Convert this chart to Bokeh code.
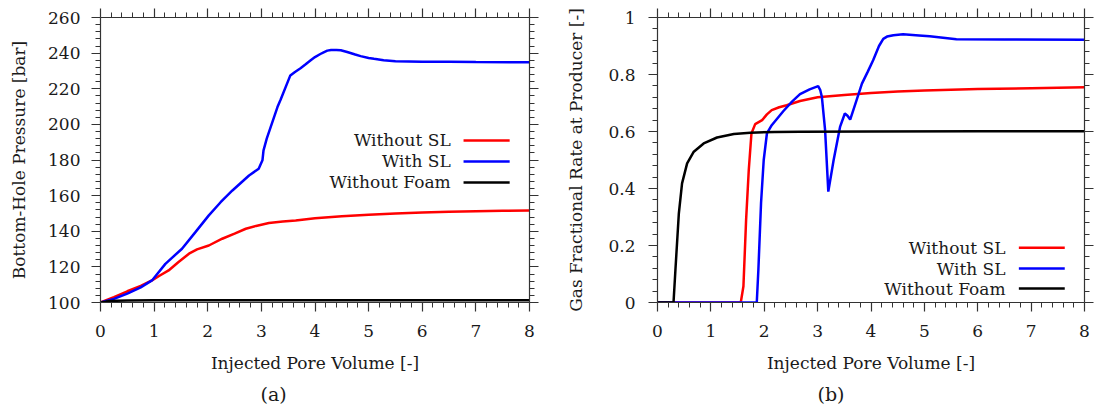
from bokeh.plotting import figure
from bokeh.layouts import row
from bokeh.models import Range1d, LinearAxis, FixedTicker, Label, Title
from bokeh.embed import file_html
from bokeh.resources import INLINE

# ---------------- data ----------------
# (a) Bottom-hole pressure [bar] vs injected pore volume
bhp_nosl_x = [0, 0.25, 0.5, 0.75, 0.96, 1.1, 1.27, 1.45, 1.65, 1.8, 2.02, 2.27, 2.5, 2.71, 2.9,
              3.14, 3.4, 3.64, 4.0, 4.5, 5.0, 5.5, 6.0, 6.5, 7.0, 7.5, 8.0]
bhp_nosl_y = [100, 103.0, 106.3, 109.3, 112.4, 115.0, 118.0, 122.6, 127.4, 129.8, 132.0, 135.8, 138.7,
              141.4, 143.0, 144.6, 145.5, 146.1, 147.3, 148.4, 149.3, 150.0, 150.5, 150.9, 151.2,
              151.5, 151.7]

bhp_sl_x = [0, 0.25, 0.5, 0.75, 0.96, 1.21, 1.52, 1.77, 2.02, 2.24, 2.46, 2.77, 2.95,
            3.02, 3.04, 3.10, 3.30, 3.36, 3.54, 3.62, 3.73, 3.82, 3.92, 4.00, 4.10, 4.17,
            4.23, 4.30, 4.40, 4.48, 4.60, 4.75, 4.85, 5.00, 5.10, 5.28, 5.50, 6.0, 6.5, 7.0, 8.0]
bhp_sl_y = [100, 102.0, 105.0, 108.5, 112.4, 121.7, 130.2, 139.5, 148.9, 156.3, 162.9, 171.3, 175.1,
            179.8, 185.4, 192.0, 209.7, 214.0, 227.5, 229.3, 231.5, 233.6, 236.0, 237.8, 239.5, 240.6,
            241.4, 241.8, 241.8, 241.6, 240.6, 239.2, 238.3, 237.3, 236.8, 236.0, 235.4, 235.2, 235.1,
            235.0, 234.9]

bhp_nofoam_x = [0, 0.1, 0.2, 0.3, 0.5, 1.0, 8.0]
bhp_nofoam_y = [100, 100.5, 100.8, 101.0, 101.1, 101.2, 101.2]

# (b) Gas fractional rate at producer [-]
fg_nosl_x = [0, 1.56, 1.61, 1.66, 1.71, 1.76, 1.83, 1.96, 2.05, 2.14, 2.28, 2.42, 2.67, 3.0, 3.5,
             4.0, 4.5, 5.0, 6.0, 7.0, 8.0]
fg_nosl_y = [0, 0, 0.057, 0.29, 0.465, 0.593, 0.626, 0.64, 0.66, 0.675, 0.685, 0.692, 0.707, 0.72,
             0.728, 0.735, 0.74, 0.744, 0.749, 0.752, 0.755]

fg_sl_x = [0, 1.86, 1.89, 1.94, 1.99, 2.05, 2.14, 2.36, 2.52, 2.67, 2.85, 3.01, 3.05, 3.08, 3.14,
           3.20, 3.30, 3.42, 3.51, 3.56, 3.61, 3.73, 3.83, 3.94, 4.04, 4.15, 4.23, 4.30, 4.42,
           4.60, 4.90, 5.10, 5.60, 6.5, 8.0]
fg_sl_y = [0, 0, 0.115, 0.349, 0.50, 0.593, 0.622, 0.672, 0.705, 0.731, 0.748, 0.759, 0.745, 0.721,
           0.605, 0.389, 0.50, 0.616, 0.663, 0.655, 0.642, 0.71, 0.768, 0.81, 0.85, 0.90, 0.925,
           0.933, 0.938, 0.941, 0.937, 0.934, 0.924, 0.923, 0.922]

fg_nofoam_x = [0, 0.30, 0.336, 0.40, 0.46, 0.555, 0.68, 0.865, 1.116, 1.43, 1.74, 2.2, 2.67,
               4.0, 6.0, 8.0]
fg_nofoam_y = [0, 0, 0.115, 0.313, 0.418, 0.488, 0.529, 0.558, 0.579, 0.591, 0.596, 0.598, 0.599,
               0.600, 0.601, 0.601]

series_names = ["Without SL", "With SL", "Without Foam"]
series_colors = ["#ff0000", "#0000ff", "#000000"]

x_ticks = [0, 1, 2, 3, 4, 5, 6, 7, 8]
x_tick_labels = ["0", "1", "2", "3", "4", "5", "6", "7", "8"]
ya_ticks = [100, 120, 140, 160, 180, 200, 220, 240, 260]
ya_tick_labels = ["100", "120", "140", "160", "180", "200", "220", "240", "260"]
yb_ticks = [0, 0.2, 0.4, 0.6, 0.8, 1.0]
yb_tick_labels = ["0", "0.2", "0.4", "0.6", "0.8", "1"]

x_label = "Injected Pore Volume [-]"
ya_label = "Bottom-Hole Pressure [bar]"
yb_label = "Gas Fractional Rate at Producer [-]"

# ---------------- style ----------------
FONT = "DejaVu Serif"
FS = "17px"
TAG_FS = "19px"
TXT = "#1a1a1a"
AX = "#333333"
LW = 2.5
H = 412


def minor(ticks, n):
    out = []
    for a, b in zip(ticks[:-1], ticks[1:]):
        step = (b - a) / n
        out += [a + step * k for k in range(1, n)]
    return out


def style_axis(ax, ticks, labels, show_labels=True, standoff=10):
    ax.ticker = FixedTicker(ticks=ticks, minor_ticks=minor(ticks, 5))
    ax.axis_line_color = AX
    ax.axis_line_width = 1.2
    ax.major_tick_line_color = AX
    ax.minor_tick_line_color = AX
    ax.major_tick_line_width = 1.2
    ax.minor_tick_line_width = 1.0
    ax.major_tick_in = 0
    ax.major_tick_out = 9
    ax.minor_tick_in = 0
    ax.minor_tick_out = 5
    ax.major_label_text_font = FONT
    ax.major_label_text_color = TXT
    ax.major_label_text_font_size = FS
    if show_labels:
        ax.major_label_overrides = {t: l for t, l in zip(ticks, labels)}
        ax.major_label_standoff = standoff
    else:
        ax.major_label_overrides = {t: "" for t in ticks}
        ax.major_label_standoff = 0
    ax.axis_label_text_font = FONT
    ax.axis_label_text_font_size = FS
    ax.axis_label_text_font_style = "normal"
    ax.axis_label_text_color = TXT


def make_panel(width, ylo, yhi, yticks, yticklabels, ylabel, border_l, border_r,
               frame_top, frame_h, series, leg, tag, tag_offset, ylab_standoff, ytick_standoff):
    p = figure(width=width, height=H, output_backend="svg", toolbar_location=None,
               x_range=Range1d(0, 8), y_range=Range1d(ylo, yhi),
               min_border_left=border_l, min_border_right=border_r,
               min_border_top=frame_top, min_border_bottom=H - frame_top - frame_h,
               x_axis_type=None, y_axis_type=None)
    p.outline_line_color = None
    p.xgrid.visible = False
    p.ygrid.visible = False
    p.background_fill_color = "white"
    p.border_fill_color = "white"

    bx = LinearAxis(axis_label=x_label, axis_label_standoff=13)
    style_axis(bx, x_ticks, x_tick_labels, True, 13)
    p.add_layout(bx, "below")
    ly = LinearAxis(axis_label=ylabel, axis_label_standoff=ylab_standoff)
    style_axis(ly, yticks, yticklabels, True, ytick_standoff)
    p.add_layout(ly, "left")
    tx = LinearAxis()
    style_axis(tx, x_ticks, x_tick_labels, False)
    p.add_layout(tx, "above")
    ry = LinearAxis()
    style_axis(ry, yticks, yticklabels, False)
    p.add_layout(ry, "right")

    for (xs, ys), c in zip(series, series_colors):
        p.line(xs, ys, line_color=c, line_width=LW)

    # legend (text on the left, sample line on the right)
    lx_text, lx0, lx1, rows = leg
    for name, c, ry_ in zip(series_names, series_colors, rows):
        p.add_layout(Label(x=lx_text, y=ry_, text=name, text_align="right",
                           text_baseline="middle", text_font=FONT, text_font_size=FS,
                           text_color=TXT))
        p.segment(x0=[lx0], y0=[ry_], x1=[lx1], y1=[ry_], line_color=c, line_width=LW)

    p.add_layout(Title(text=tag, align="left", offset=tag_offset, standoff=10,
                       text_font=FONT, text_font_size=TAG_FS, text_font_style="normal",
                       text_color=TXT), "below")
    return p


pa = make_panel(547, 100, 260, ya_ticks, ya_tick_labels, ya_label, 100, 18, 17, 285,
                [(bhp_nosl_x, bhp_nosl_y), (bhp_sl_x, bhp_sl_y), (bhp_nofoam_x, bhp_nofoam_y)],
                (6.53, 6.77, 7.63, [191.0, 179.2, 167.4]),
                "(a)", 160, 16, 11)

pb = make_panel(547, 0, 1, yb_ticks, yb_tick_labels, yb_label, 110, 10, 17, 286,
                [(fg_nosl_x, fg_nosl_y), (fg_sl_x, fg_sl_y), (fg_nofoam_x, fg_nofoam_y)],
                (6.52, 6.77, 7.63, [0.192, 0.119, 0.049]),
                "(b)", 160, 19, 13)

layout = row(pa, pb)
open("out.html", "w").write(file_html(layout, INLINE))
